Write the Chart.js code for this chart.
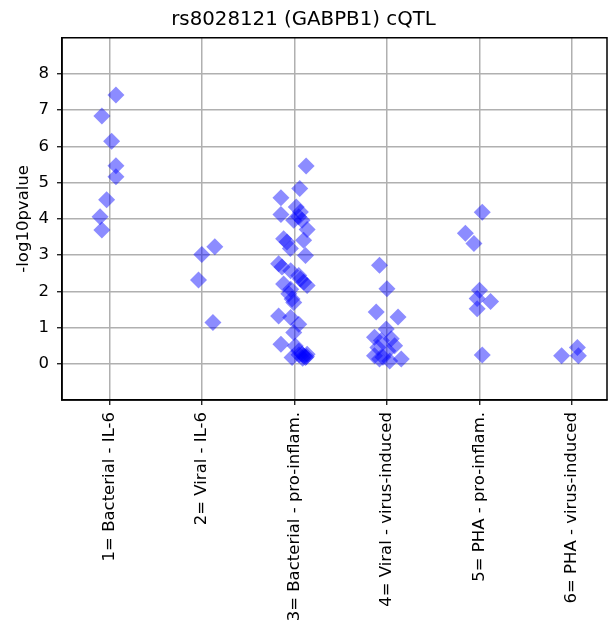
<!DOCTYPE html>
<html>
<head>
<meta charset="utf-8">
<script src="https://cdn.jsdelivr.net/npm/chart.js@4"></script>
<style>
html, body { margin: 0; padding: 0; background: #fff; }
</style>
</head>
<body>
<canvas id="cqtlChart" width="608" height="620"></canvas>
<script>
// categories on the x axis
const categories = [
    '1= Bacterial - IL-6',
    '2= Viral - IL-6',
    '3= Bacterial - pro-inflam.',
    '4= Viral - virus-induced',
    '5= PHA - pro-inflam.',
    '6= PHA - virus-induced'
];
const yTicks = [0, 1, 2, 3, 4, 5, 6, 7, 8];

// -log10 p values per group, with the horizontal jitter of each point
const group1Values = [7.42, 6.84, 6.14, 5.47, 5.16, 4.53, 4.06, 3.69];
const group1Jitter = [0.072, -0.080, 0.025, 0.072, 0.072, -0.029, -0.10, -0.08];

const group2Values = [3.23, 3.02, 2.31, 1.14];
const group2Jitter = [0.14, 0.0, -0.036, 0.12];

const group3Values = [5.46, 4.84, 4.58, 4.12, 4.33, 4.19, 4.06, 3.96, 3.96, 3.71,
    3.45, 3.36, 3.41, 3.18, 2.99, 2.76, 2.67, 2.57, 2.44, 2.34,
    2.25, 2.16, 2.20, 2.06, 1.93, 1.79, 1.69, 1.32, 1.28, 1.09,
    0.86, 0.54, 0.49, 0.35, 0.26, 0.17, 0.26, 0.22, 0.20, 0.15, 0.25, 0.17];
const group3Jitter = [0.127, 0.058, -0.145, -0.145, 0.02, 0.065, 0.047, -0.007, 0.083, 0.138,
    -0.116, -0.08, 0.10, -0.043, 0.12, -0.17, -0.134, -0.04, 0.047, 0.065,
    0.10, 0.138, -0.116, -0.04, -0.06, -0.025, -0.007, -0.17, -0.04, 0.047,
    -0.007, -0.145, 0.01, 0.047, 0.083, 0.12, 0.138, 0.10, 0.13, 0.09, 0.05, -0.025];

const group4Values = [2.72, 2.07, 1.43, 1.29, 0.96, 0.73, 0.69, 0.64, 0.45, 0.50,
    0.36, 0.22, 0.18, 0.13, 0.08, 0.13];
const group4Jitter = [-0.08, 0.0, -0.116, 0.12, -0.007, -0.134, 0.047, -0.06, -0.098, 0.083,
    0.01, -0.134, -0.043, 0.155, 0.03, -0.08];

const group5Values = [4.18, 3.60, 3.32, 2.03, 1.80, 1.72, 1.52, 0.24];
const group5Jitter = [0.03, -0.152, -0.06, 0.0, -0.025, 0.12, -0.025, 0.03];

const group6Values = [0.22, 0.45, 0.22];
const group6Jitter = [-0.112, 0.058, 0.069];

const groups = [
    [group1Values, group1Jitter],
    [group2Values, group2Jitter],
    [group3Values, group3Jitter],
    [group4Values, group4Jitter],
    [group5Values, group5Jitter],
    [group6Values, group6Jitter]
];

const points = [];
groups.forEach(function (g, i) {
    g[0].forEach(function (v, j) {
        points.push({ x: i + 1 + g[1][j], y: v });
    });
});

Chart.defaults.font.family = "'DejaVu Sans', sans-serif";
Chart.defaults.color = '#000';

// black box round the plot area
const frame = {
    id: 'frame',
    afterDatasetsDraw(chart) {
        const a = chart.chartArea;
        const c = chart.ctx;
        c.save();
        c.strokeStyle = '#000';
        c.lineWidth = 1.5;
        c.strokeRect(a.left, a.top, a.right - a.left, a.bottom - a.top);
        c.restore();
    }
};

const ctx = document.getElementById('cqtlChart').getContext('2d');
const cqtlChart = new Chart(ctx, {
    type: 'scatter',
    data: {
        datasets: [{
            data: points,
            pointStyle: 'rectRot',
            pointRadius: 8.5,
            pointHoverRadius: 8.5,
            backgroundColor: 'rgba(0, 0, 255, 0.45)',
            borderWidth: 0
        }]
    },
    options: {
        responsive: false,
        animation: false,
        layout: { autoPadding: false, padding: { left: 0, right: 1, top: 0, bottom: 0 } },
        plugins: {
            legend: { display: false },
            tooltip: { enabled: false },
            title: {
                display: true,
                text: 'rs8028121 (GABPB1) cQTL',
                font: { size: 19.8, weight: 'normal' },
                padding: { top: 8, bottom: 6 }
            }
        },
        scales: {
            x: {
                type: 'linear',
                min: 0.489,
                max: 6.378,
                afterBuildTicks: function (scale) {
                    scale.ticks = categories.map(function (c, i) { return { value: i + 1 }; });
                },
                afterFit: function (scale) {
                    scale.height = 220;
                    scale.paddingLeft = 0;
                    scale.paddingRight = 0;
                },
                ticks: {
                    autoSkip: false,
                    minRotation: 90,
                    maxRotation: 90,
                    padding: 7,
                    font: { size: 16.5 },
                    callback: function (value, index) { return categories[index]; }
                },
                grid: { color: '#b0b0b0', lineWidth: 1.5, tickColor: '#000', tickLength: 5, tickWidth: 1.2 },
                border: { color: '#000', width: 1.5 }
            },
            y: {
                min: -1,
                max: 9,
                afterBuildTicks: function (scale) {
                    scale.ticks = yTicks.map(function (v) { return { value: v }; });
                },
                afterFit: function (scale) { scale.width = 62; },
                ticks: { padding: 8, font: { size: 16.5 } },
                title: {
                    display: true,
                    text: '-log10pvalue',
                    font: { size: 16.5 },
                    padding: { top: 14, bottom: 0 }
                },
                grid: { color: '#b0b0b0', lineWidth: 1.5, tickColor: '#000', tickLength: 5, tickWidth: 1.2 },
                border: { color: '#000', width: 1.5 }
            }
        }
    },
    plugins: [frame]
});
</script>
</body>
</html>
